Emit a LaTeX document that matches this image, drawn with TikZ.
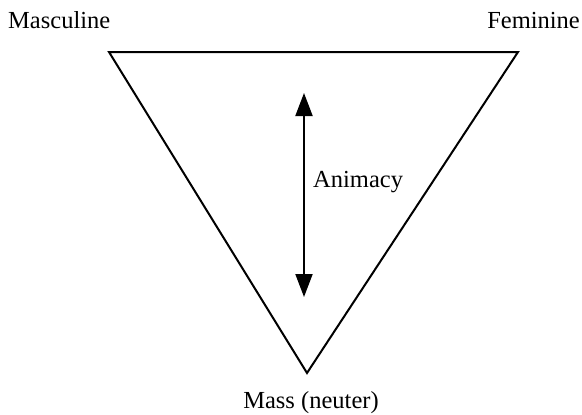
\documentclass[tikz,border=0pt]{standalone}
\usepackage{fontspec}
\setmainfont{Liberation Serif}
\usetikzlibrary{arrows.meta}
\begin{document}
\begin{tikzpicture}[x=1pt,y=-1pt,
  edge/.style={line width=2pt,line join=miter},
  lbl/.style={inner sep=0pt,font=\fontsize{24.5}{28}\selectfont},
  animarrow/.style={line width=2pt,{Triangle[length=23pt,width=17pt]}-{Triangle[length=23pt,width=17pt]}}]
\useasboundingbox (0,0) rectangle (582,415);
\coordinate (tl) at (109,52);
\coordinate (tr) at (518,52);
\coordinate (bt) at (307,373);
\draw[edge] (tl) -- (tr) -- (bt) -- cycle;
\coordinate (atop) at (304,93);
\coordinate (abot) at (304,297);
\draw[animarrow] (atop) -- (abot);
\node[lbl,anchor=base west] (masc) at (8,28) {Masculine};
\node[lbl,anchor=base east] (fem) at (580,28) {Feminine};
\node[lbl,anchor=base west] (anim) at (313,187) {Animacy};
\node[lbl,anchor=base] (mass) at (311,408) {Mass (neuter)};
\end{tikzpicture}
\end{document}
